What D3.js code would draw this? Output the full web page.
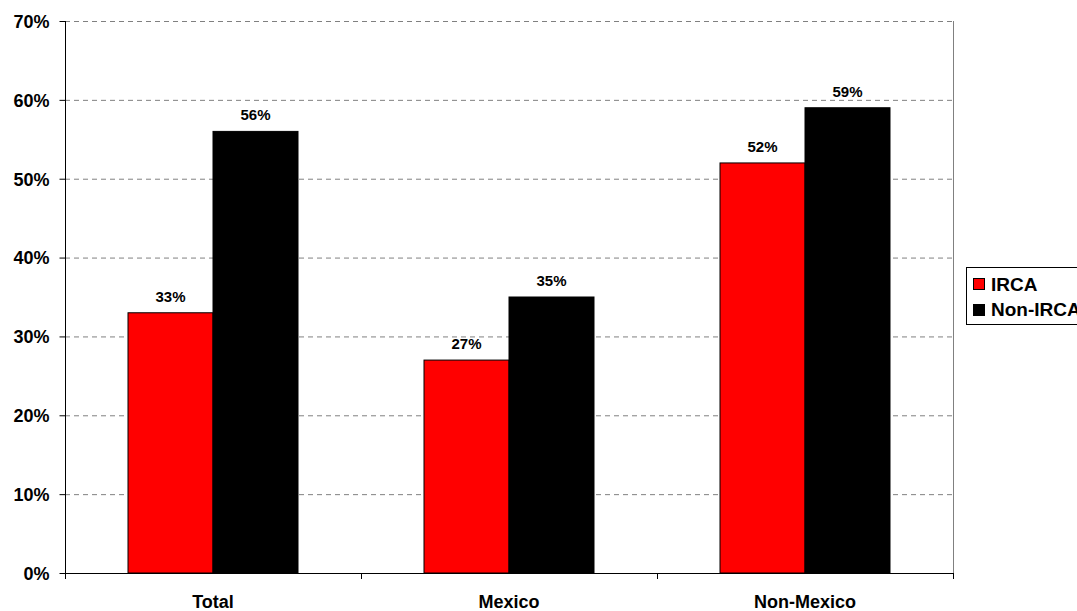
<!DOCTYPE html>
<html><head><meta charset="utf-8">
<script src="https://cdn.jsdelivr.net/npm/d3@7"></script>
<style>body{margin:0;background:#fff}svg{display:block}text{font-family:"Liberation Sans",Arial,sans-serif;font-weight:bold}</style>
</head><body><svg id="c" width="1077" height="611"></svg>
<script>
const categories = ["Total", "Mexico", "Non-Mexico"];
const seriesNames = ["IRCA", "Non-IRCA"];
const irca = [33, 27, 52];
const nonIrca = [56, 35, 59];
const yTicks = [0, 10, 20, 30, 40, 50, 60, 70];
const colors = ["#ff0000", "#000000"];

const svg = d3.select("#c");
const L = 65, R = 953, T = 21, B = 573;
const x = d3.scaleBand().domain(categories).range([L, R]);
const x1 = d3.scaleBand().domain(seriesNames).range([63, 233]).paddingInner(0);
const y = d3.scaleLinear().domain([0, 70]).range([B, T]);

// gridlines
svg.append("g").selectAll("line").data(yTicks.filter(d => d > 0)).join("line")
  .attr("x1", L).attr("x2", R).attr("y1", d => y(d) + 0.5).attr("y2", d => y(d) + 0.5)
  .attr("stroke", "#808080").attr("stroke-dasharray", "5,4");
// right border
svg.append("line").attr("x1", R + 0.5).attr("x2", R + 0.5).attr("y1", T).attr("y2", B)
  .attr("stroke", "#808080");

const data = categories.map((c, i) => ({c, vals: [irca[i], nonIrca[i]]}));
const g = svg.append("g").selectAll("g").data(data).join("g")
  .attr("transform", d => `translate(${x(d.c)},0)`);
g.selectAll("rect").data(d => d.vals.map((v, j) => ({v, s: seriesNames[j], j}))).join("rect")
  .attr("x", d => x1(d.s)).attr("width", x1.bandwidth())
  .attr("y", d => y(d.v)).attr("height", d => B - y(d.v))
  .attr("fill", d => colors[d.j]).attr("stroke", "#000").attr("stroke-width", 1);
g.selectAll("text").data(d => d.vals.map((v, j) => ({v, s: seriesNames[j]}))).join("text")
  .attr("x", d => x1(d.s) + x1.bandwidth() / 2).attr("y", d => y(d.v) - 11)
  .attr("text-anchor", "middle").attr("font-size", 15).text(d => d.v + "%");

// y axis
const ya = svg.append("g").attr("transform", `translate(${L + 0.5},0)`)
  .call(d3.axisLeft(y).tickValues(yTicks).tickFormat(d => d + "%").tickSize(6).tickPadding(10));
ya.select(".domain").attr("stroke", "#000").attr("d", `M-0,${T}V${B}`);
ya.selectAll("line").attr("stroke", "#000");
ya.selectAll("text").attr("font-size", 18).attr("font-family", "Liberation Sans, Arial, sans-serif").attr("font-weight", "bold").attr("fill", "#000").attr("dy", "0.35em");

// x axis
const xa = svg.append("g").attr("transform", `translate(0,${B + 0.5})`)
  .call(d3.axisBottom(x).tickSize(0).tickPadding(20));
xa.select(".domain").attr("stroke", "#000").attr("d", `M${L},0H${R}`);
xa.selectAll("text").attr("font-size", 18).attr("font-family", "Liberation Sans, Arial, sans-serif").attr("font-weight", "bold").attr("fill", "#000")
  .attr("y", 34).attr("dy", 0);
svg.append("g").selectAll("line").data(categories).join("line")
  .attr("x1", d => Math.round(x(d)) + 0.5).attr("x2", d => Math.round(x(d)) + 0.5)
  .attr("y1", B).attr("y2", B + 6).attr("stroke", "#000");
svg.append("line").attr("x1", R + 0.5).attr("x2", R + 0.5).attr("y1", B).attr("y2", B + 6).attr("stroke", "#000");

// legend
const lg = svg.append("g");
lg.append("rect").attr("x", 966.5).attr("y", 267.5).attr("width", 120).attr("height", 57)
  .attr("fill", "#fff").attr("stroke", "#000");
seriesNames.forEach((s, i) => {
  lg.append("rect").attr("x", 973.5).attr("y", 278.5 + i * 26).attr("width", 11).attr("height", 11)
    .attr("fill", colors[i]).attr("stroke", "#000");
  lg.append("text").attr("x", 991).attr("y", 291 + i * 25).attr("font-size", 19).text(s);
});
</script></body></html>
